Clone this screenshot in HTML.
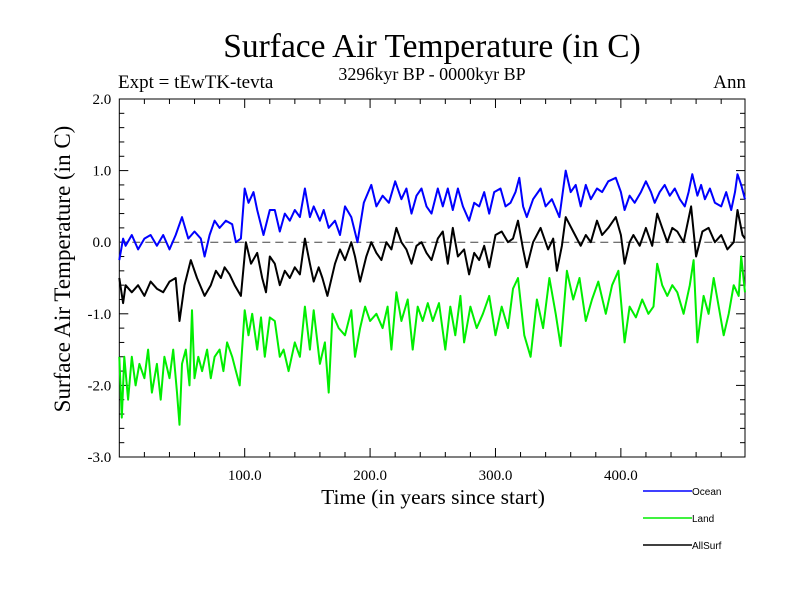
<!DOCTYPE html>
<html><head><meta charset="utf-8"><style>
body{margin:0;background:#fff;}
svg{display:block;font-family:"Liberation Serif",serif;}
</style></head><body>
<svg id="chart" width="800" height="600" viewBox="0 0 800 600">
<rect width="800" height="600" fill="#fff"/>
<text x="432" y="57" font-size="33.5" text-anchor="middle">Surface Air Temperature (in C)</text>
<text x="432" y="80" font-size="18" text-anchor="middle">3296kyr BP - 0000kyr BP</text>
<text x="118" y="88" font-size="19">Expt = tEwTK-tevta</text>
<text x="746" y="88" font-size="19" text-anchor="end">Ann</text>
<text transform="translate(70,269) rotate(-90)" font-size="23" text-anchor="middle">Surface Air Temperature (in C)</text>
<text x="433" y="504" font-size="21.5" text-anchor="middle">Time (in years since start)</text>
<g id="axes"></g>
<g id="series"></g>
<g id="legend" font-family="Liberation Sans, sans-serif" font-size="10">
<line x1="643" y1="491" x2="692" y2="491" stroke="#0000ff" stroke-width="1.5"/>
<text x="692" y="495">Ocean</text>
<line x1="643" y1="518" x2="692" y2="518" stroke="#00ee00" stroke-width="1.5"/>
<text x="692" y="522">Land</text>
<line x1="643" y1="545" x2="692" y2="545" stroke="#000" stroke-width="1.5"/>
<text x="692" y="549">AllSurf</text>
</g>
</svg>
<script>
const yTicks=[2,1,0,-1,-2,-3];
const yTickLabels=["2.0","1.0","0.0","-1.0","-2.0","-3.0"];
const xTicks=[100,200,300,400];
const xTickLabels=["100.0","200.0","300.0","400.0"];
const oceanYears=[0,3,5,10,15,20,25,30,35,40,45,50,55,60,65,68,72,76,80,85,90,93,97,100,103,107,110,115,120,124,128,132,136,140,144,148,152,155,160,163,167,172,176,180,185,190,195,201,205,210,215,220,225,229,233,237,241,245,249,254,258,262,266,270,274,279,283,287,291,295,299,304,308,312,316,319,322,325,330,336,340,345,351,356,360,364,368,372,376,381,385,390,396,400,403,407,411,416,420,424,427,431,435,439,443,447,451,454,457,461,464,467,471,475,480,484,488,491,493,496,499];
const oceanTemps=[-0.25,0.05,-0.05,0.1,-0.1,0.05,0.1,-0.05,0.1,-0.1,0.1,0.35,0.05,0.15,0.05,-0.2,0.1,0.3,0.2,0.3,0.25,0.0,0.05,0.75,0.55,0.7,0.45,0.1,0.45,0.45,0.15,0.4,0.3,0.45,0.35,0.75,0.35,0.5,0.3,0.45,0.2,0.3,0.1,0.5,0.35,0.0,0.55,0.8,0.5,0.65,0.55,0.85,0.6,0.75,0.4,0.65,0.75,0.5,0.4,0.75,0.5,0.75,0.45,0.75,0.5,0.3,0.55,0.5,0.7,0.4,0.7,0.75,0.5,0.55,0.7,0.9,0.5,0.35,0.6,0.75,0.5,0.6,0.35,1.0,0.7,0.8,0.5,0.8,0.6,0.75,0.7,0.85,0.9,0.7,0.45,0.65,0.55,0.7,0.85,0.7,0.55,0.7,0.8,0.65,0.75,0.6,0.5,0.7,0.95,0.65,0.8,0.6,0.75,0.55,0.5,0.7,0.45,0.7,0.95,0.8,0.6];
const landYears=[0,2,4,7,10,13,16,20,23,26,30,33,36,40,43,46,48,50,53,56,58,60,63,66,70,73,76,80,83,86,90,93,96,100,103,106,110,113,116,120,124,128,131,135,140,144,148,152,155,160,164,167,170,175,180,185,188,192,196,200,205,210,214,217,221,225,230,234,238,242,246,250,255,260,264,268,272,275,280,285,290,295,300,305,310,314,318,323,328,333,338,343,348,352,357,362,367,372,377,382,388,393,398,403,407,412,417,422,426,429,433,437,441,445,450,455,458,461,466,470,474,478,482,486,490,494,496,499];
const landTemps=[-1.6,-2.45,-1.6,-2.2,-1.6,-2.0,-1.7,-1.9,-1.5,-2.1,-1.7,-2.2,-1.6,-1.9,-1.5,-2.1,-2.55,-1.7,-1.5,-2.0,-0.95,-1.9,-1.6,-1.8,-1.5,-1.9,-1.6,-1.5,-1.8,-1.4,-1.6,-1.8,-2.0,-0.95,-1.3,-1.0,-1.5,-1.05,-1.6,-1.05,-1.1,-1.6,-1.5,-1.8,-1.4,-1.6,-0.9,-1.5,-0.95,-1.7,-1.4,-2.1,-1.0,-1.2,-1.3,-0.95,-1.6,-1.2,-0.9,-1.1,-1.0,-1.2,-0.9,-1.5,-0.7,-1.1,-0.8,-1.5,-0.9,-1.1,-0.85,-1.1,-0.85,-1.5,-0.9,-1.3,-0.75,-1.4,-0.9,-1.2,-1.0,-0.75,-1.3,-0.9,-1.2,-0.65,-0.5,-1.3,-1.6,-0.8,-1.2,-0.5,-1.0,-1.45,-0.4,-0.8,-0.5,-1.1,-0.8,-0.55,-1.0,-0.6,-0.4,-1.4,-0.9,-1.05,-0.8,-1.0,-0.9,-0.3,-0.6,-0.75,-0.6,-0.7,-1.0,-0.6,-0.25,-1.4,-0.75,-1.0,-0.5,-0.9,-1.3,-1.0,-0.6,-0.75,-0.2,-0.7];
const allYears=[0,3,5,10,15,20,25,30,35,40,45,48,52,57,62,68,73,77,81,84,88,92,97,101,105,110,114,117,120,124,128,132,136,140,144,148,152,155,159,162,166,172,176,180,185,188,192,197,201,205,209,213,217,221,225,229,233,237,241,245,249,254,258,262,266,270,275,279,283,287,291,295,300,305,310,314,318,322,325,330,336,342,346,349,353,356,362,368,372,376,381,385,390,396,400,403,407,410,415,420,425,429,433,437,441,445,450,456,460,465,470,475,480,485,490,493,497,499];
const allTemps=[-0.5,-0.85,-0.6,-0.7,-0.6,-0.75,-0.55,-0.65,-0.7,-0.55,-0.5,-1.1,-0.6,-0.25,-0.5,-0.75,-0.6,-0.4,-0.5,-0.35,-0.45,-0.6,-0.75,0.0,-0.3,-0.15,-0.5,-0.7,-0.2,-0.3,-0.6,-0.4,-0.5,-0.35,-0.45,0.05,-0.3,-0.55,-0.35,-0.5,-0.75,-0.3,-0.1,-0.25,0.0,-0.2,-0.55,-0.2,0.0,-0.15,-0.25,0.0,-0.1,0.2,0.0,-0.1,-0.3,-0.05,0.0,-0.15,-0.25,0.05,0.15,-0.3,0.2,-0.2,-0.1,-0.45,-0.15,-0.25,-0.05,-0.35,0.1,0.15,0.0,0.05,0.3,-0.1,-0.35,0.0,0.2,-0.1,0.05,-0.4,-0.05,0.35,0.15,-0.05,0.1,0.0,0.3,0.1,0.2,0.35,0.1,-0.3,0.0,0.1,-0.05,0.2,-0.05,0.4,0.2,0.0,0.2,0.15,0.0,0.5,-0.2,0.15,0.2,0.0,0.1,-0.1,0.0,0.45,0.1,0.05];

const NS='http://www.w3.org/2000/svg';
const X0=119.3,X1=745,Y0=99,Y1=457;
const xScale=v=>X0+(v-0)*(X1-X0)/499;
const yScale=v=>Y0+(2-v)*(Y1-Y0)/5;
function mk(tag,attrs,parent){const e=document.createElementNS(NS,tag);for(const k in attrs)e.setAttribute(k,attrs[k]);parent.appendChild(e);return e;}
const axes=document.getElementById('axes');
const frame=mk('rect',{x:X0,y:Y0,width:X1-X0,height:Y1-Y0,fill:'none',stroke:'#000','stroke-width':1},axes);


for(let v=-3;v<=2.001;v+=0.2){
  const y=yScale(v);const major=Math.abs(v-Math.round(v))<0.01;const L=major?9:5;
  const t1=mk('line',{x1:X0,y1:y,x2:X0+L,y2:y,stroke:'#000'},axes);
  
  
  const t2=mk('line',{x1:X1,y1:y,x2:X1-L,y2:y,stroke:'#000'},axes);
  
  
}
yTicks.forEach((v,i)=>{
  const t=mk('text',{x:X0-8,y:yScale(v)+5,'font-size':15,'text-anchor':'end'},axes);
  t.textContent=yTickLabels[i];
  
  
});
for(let v=20;v<499;v+=20){
  const x=xScale(v);const major=v%100===0;const L=major?9:5;
  const t1=mk('line',{x1:x,y1:Y1,x2:x,y2:Y1-L,stroke:'#000'},axes);
  
  
  const t2=mk('line',{x1:x,y1:Y0,x2:x,y2:Y0+L,stroke:'#000'},axes);
  
  
}
xTicks.forEach((v,i)=>{
  const t=mk('text',{x:xScale(v),y:Y1+23,'font-size':15,'text-anchor':'middle'},axes);
  t.textContent=xTickLabels[i];
  
  
});
const zl=mk('line',{x1:X0,y1:yScale(0),x2:X1,y2:yScale(0),stroke:'#444','stroke-dasharray':'8,5'},axes);


const series=document.getElementById('series');
function draw(xs,ys,color,name){
  const d=xs.map((x,i)=>(i?'L':'M')+xScale(x).toFixed(1)+','+yScale(ys[i]).toFixed(1)).join('');
  const p=mk('path',{d:d,fill:'none',stroke:color,'stroke-width':2,'stroke-linejoin':'round'},series);
  
  
}
draw(landYears,landTemps,'#00ee00','land-line');
draw(allYears,allTemps,'#000000','allsurf-line');
draw(oceanYears,oceanTemps,'#0000ff','ocean-line');
</script>
</body></html>
